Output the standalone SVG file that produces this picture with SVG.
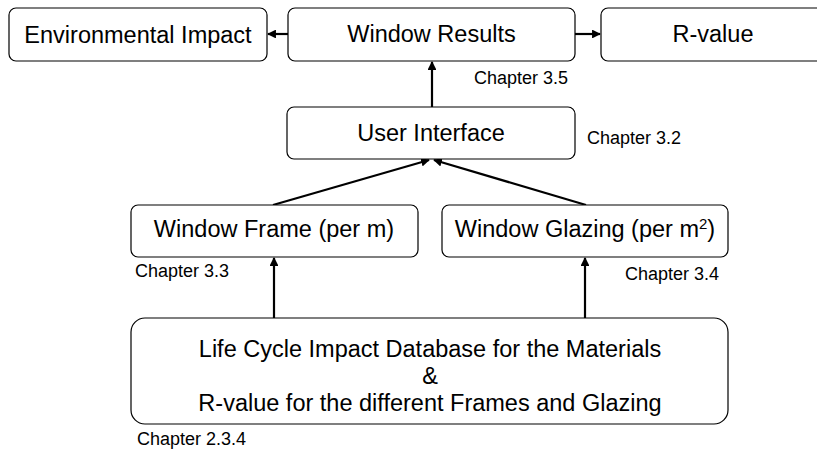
<svg xmlns="http://www.w3.org/2000/svg" width="817" height="450" viewBox="0 0 817 450">
<style>
.box{fill:#fff;stroke:#000;stroke-width:1.2}
.t{font-family:"Liberation Sans",Arial,sans-serif;font-size:23.5px;fill:#000;text-anchor:middle}
.c{font-family:"Liberation Sans",Arial,sans-serif;font-size:18px;fill:#000}
.ln{stroke:#000;stroke-width:2.2;fill:none;marker-end:url(#ah)}
</style>
<defs>
<marker id="ah" viewBox="0 0 10 10" refX="9" refY="5" markerWidth="4" markerHeight="4" orient="auto" markerUnits="strokeWidth">
<path d="M0,0 L10,5 L0,10 z" fill="#000"/>
</marker>
</defs>
<g id="connectors">
<line class="ln" x1="288" y1="34" x2="268" y2="34"/>
<line class="ln" x1="575" y1="34" x2="600" y2="34"/>
<line class="ln" x1="432" y1="107" x2="432" y2="62"/>
<line class="ln" x1="273" y1="205" x2="429" y2="160"/>
<line class="ln" x1="586" y1="205" x2="434" y2="160"/>
<line class="ln" x1="274" y1="318" x2="274" y2="258"/>
<line class="ln" x1="585" y1="318" x2="585" y2="258"/>
</g>
<g id="env">
<rect class="box" x="9" y="8" width="258" height="53" rx="7"/>
<text class="t" x="138" y="43">Environmental Impact</text>
</g>
<g id="results">
<rect class="box" x="288" y="8" width="287" height="53" rx="7"/>
<text class="t" x="431.5" y="42">Window Results</text>
<text class="c" x="474" y="84">Chapter 3.5</text>
</g>
<g id="rvalue">
<rect class="box" x="601" y="8" width="224" height="53" rx="7"/>
<text class="t" x="713" y="42">R-value</text>
</g>
<g id="ui">
<rect class="box" x="287" y="107" width="288" height="52" rx="7"/>
<text class="t" x="431" y="141">User Interface</text>
<text class="c" x="587" y="144">Chapter 3.2</text>
</g>
<g id="frame">
<rect class="box" x="131" y="205" width="287" height="52" rx="7"/>
<text class="t" x="274" y="237">Window Frame (per m)</text>
<text class="c" x="135" y="277">Chapter 3.3</text>
</g>
<g id="glazing">
<rect class="box" x="442" y="205" width="286" height="52" rx="7"/>
<text class="t" x="585" y="237">Window Glazing (per m<tspan font-size="15" dy="-8">2</tspan><tspan dy="8">)</tspan></text>
<text class="c" x="625" y="280">Chapter 3.4</text>
</g>
<g id="database">
<rect class="box" x="131" y="318" width="597" height="106" rx="14"/>
<text class="t" x="430" y="357">Life Cycle Impact Database for the Materials</text>
<text class="t" x="430" y="384">&amp;</text>
<text class="t" x="430" y="411">R-value for the different Frames and Glazing</text>
<text class="c" x="137" y="445">Chapter 2.3.4</text>
</g>
</svg>
